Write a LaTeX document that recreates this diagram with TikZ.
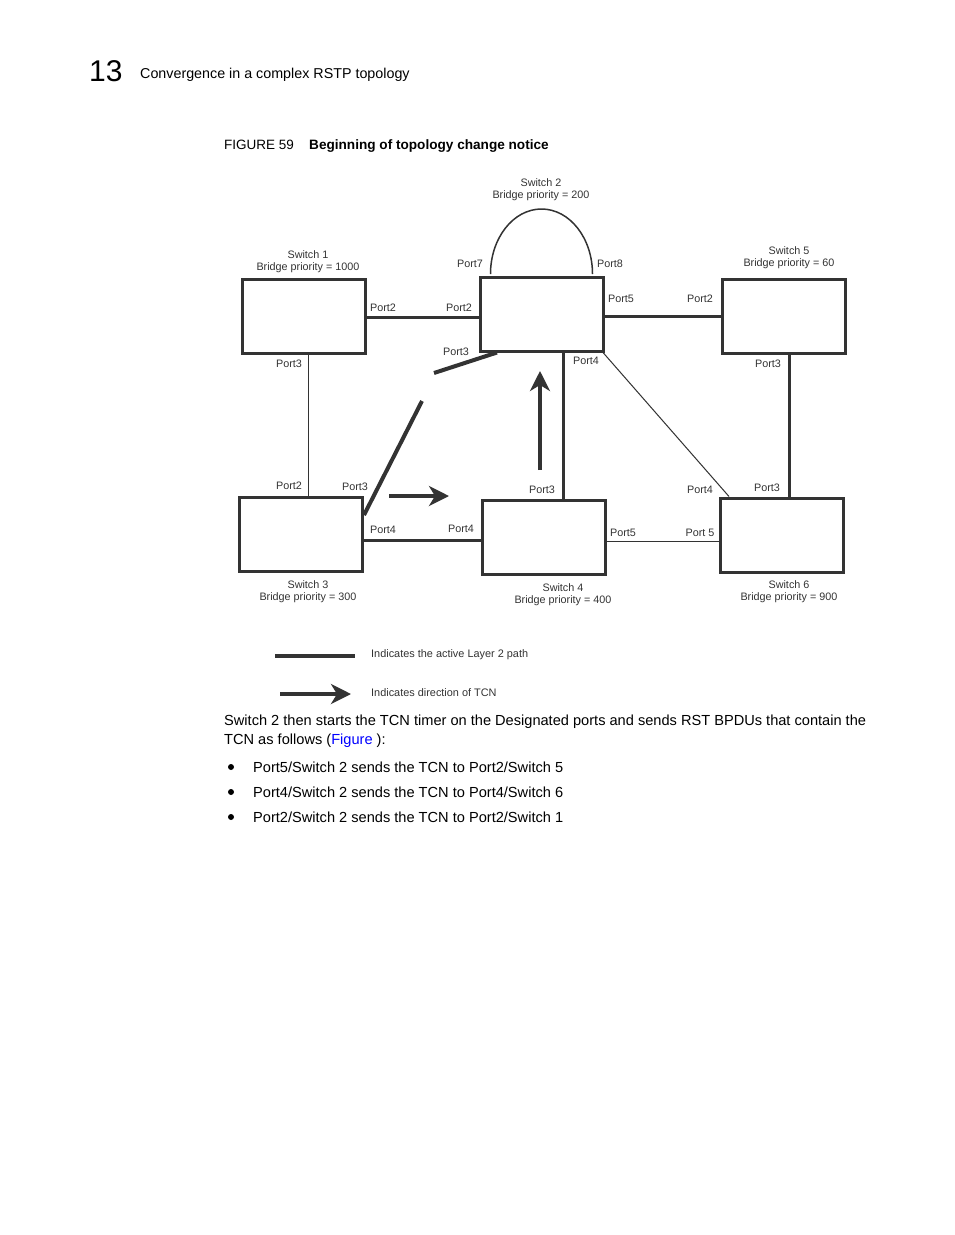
\documentclass[tikz,border=0pt]{standalone}
\usepackage{fontspec}
\setmainfont{Liberation Sans}
\usetikzlibrary{arrows.meta}
\definecolor{ink}{HTML}{333333}
\definecolor{linkblue}{RGB}{0,0,255}
\tikzset{
  switchbox/.style={draw=ink, line width=3pt, minimum width=123pt, minimum height=74pt, inner sep=0pt},
  lbl/.style={font=\fontsize{10.8}{12}\selectfont, text=ink, inner sep=0pt},
  active/.style={draw=ink, line width=3pt},
  thinlink/.style={draw=ink, line width=1pt},
  broken/.style={draw=ink, line width=4pt},
  tcn/.style={draw=ink, line width=4pt, -{Stealth[length=20pt, width=20pt, inset=6pt]}},
  body/.style={font=\fontsize{14.6}{17}\selectfont, text=black, anchor=base west, inner sep=0pt},
  bulletdot/.style={circle, fill=black, inner sep=0pt, minimum size=6pt},
}
\begin{document}
\begin{tikzpicture}[x=1pt, y=-1pt]
\useasboundingbox (0,0) rectangle (954,1235);
% header
\node[anchor=base west, inner sep=0pt, font=\fontsize{30}{32}\selectfont] (chap) at (89,81) {13};
\node[anchor=base west, inner sep=0pt, font=\fontsize{14.3}{16}\selectfont] (head) at (140,78) {Convergence in a complex RSTP topology};
\node[anchor=base west, inner sep=0pt, font=\fontsize{13.5}{16}\selectfont] (fig) at (224,149) {FIGURE 59};
\node[anchor=base west, inner sep=0pt, font=\bfseries\fontsize{13.6}{16}\selectfont] (figt) at (309,149) {Beginning of topology change notice};

% switches
\node[switchbox] (S1) at (304,316) {};
\node[switchbox] (S2) at (542,314) {};
\node[switchbox] (S5) at (784,316.5) {};
\node[switchbox] (S3) at (301,534) {};
\node[switchbox] (S4) at (543.5,537.5) {};
\node[switchbox] (S6) at (782,535) {};

% switch labels
\node[lbl, align=center] (L1) at (308,262) {Switch 1\\Bridge priority = 1000};
\node[lbl, align=center] (L2) at (541,190) {Switch 2\\Bridge priority = 200};
\node[lbl, align=center] (L5) at (789,258) {Switch 5\\Bridge priority = 60};
\node[lbl, align=center] (L3) at (308,592) {Switch 3\\Bridge priority = 300};
\node[lbl, align=center] (L4) at (563,595) {Switch 4\\Bridge priority = 400};
\node[lbl, align=center] (L6) at (789,592) {Switch 6\\Bridge priority = 900};

% loop on switch 2
\draw[draw=ink, line width=1.5pt] (490.5,274) arc[start angle=180, end angle=360, x radius=51, y radius=65];

% links
\draw[active] (S1.east |- 0,317) -- (S2.west |- 0,317);
\draw[active] (S2.east |- 0,316) -- (S5.west |- 0,316);
\draw[thinlink] ([xshift=4pt]S1.south) -- ([xshift=4pt]S1.south |- S3.north);
\draw[active] ([xshift=5pt]S5.south) -- ([xshift=5pt]S5.south |- S6.north);
\draw[active] (S3.east |- 0,540) -- (S4.west |- 0,540);
\draw[thinlink] (S4.east |- 0,541) -- (S6.west |- 0,541);
\draw[active] ([xshift=21pt]S2.south) -- ([xshift=21pt]S2.south |- S4.north);
\draw[thinlink] ([xshift=-2pt]S2.south east) -- ([xshift=10pt]S6.north west);
\coordinate (g1) at (422,401);
\coordinate (g2) at (434,373);
\draw[broken] (S3.east |- 0,515) -- (g1);
\draw[broken] (g2) -- ([xshift=-45pt]S2.south);

% TCN arrows
\coordinate (u0) at (540,470);
\coordinate (u1) at (540,371);
\coordinate (r0) at (389,496);
\coordinate (r1) at (449,496);
\draw[tcn] (u0) -- (u1);
\draw[tcn] (r0) -- (r1);

% port labels
\node[lbl] (p12) at (383,308) {Port2};
\node[lbl] (p13) at (289,364) {Port3};
\node[lbl] (p27) at (470,264) {Port7};
\node[lbl] (p28) at (610,264) {Port8};
\node[lbl] (p22) at (459,308) {Port2};
\node[lbl] (p25) at (621,299) {Port5};
\node[lbl] (p23) at (456,352) {Port3};
\node[lbl] (p24) at (586,361) {Port4};
\node[lbl] (p52) at (700,299) {Port2};
\node[lbl] (p53) at (768,364) {Port3};
\node[lbl] (p32) at (289,486) {Port2};
\node[lbl] (p33) at (355,487) {Port3};
\node[lbl] (p34) at (383,530) {Port4};
\node[lbl] (p43) at (542,490) {Port3};
\node[lbl] (p44) at (461,529) {Port4};
\node[lbl] (p45) at (623,533) {Port5};
\node[lbl] (p64) at (700,490) {Port4};
\node[lbl] (p63) at (767,488) {Port3};
\node[lbl] (p65) at (700,533) {Port 5};

% legend
\coordinate (la0) at (275,656);
\coordinate (la1) at (355,656);
\draw[active, line width=4pt] (la0) -- (la1);
\node[lbl, anchor=west, font=\fontsize{10.9}{12}\selectfont] (lt1) at (371,655) {Indicates the active Layer 2 path};
\coordinate (lb0) at (280,694);
\coordinate (lb1) at (351,694);
\draw[tcn] (lb0) -- (lb1);
\node[lbl, anchor=west, font=\fontsize{10.9}{12}\selectfont] (lt2) at (371,693) {Indicates direction of TCN};

% body text
\node[body] (t1) at (224,725) {Switch 2 then starts the TCN timer on the Designated ports and sends RST BPDUs that contain the};
\node[body] (t2) at (224,744) {TCN as follows (\textcolor{linkblue}{Figure} ):};
\node[bulletdot] (b1) at (231,767) {};
\node[bulletdot] (b2) at (231,792) {};
\node[bulletdot] (b3) at (231,817) {};
\node[body] (t3) at (253,772) {Port5/Switch 2 sends the TCN to Port2/Switch 5};
\node[body] (t4) at (253,797) {Port4/Switch 2 sends the TCN to Port4/Switch 6};
\node[body] (t5) at (253,822) {Port2/Switch 2 sends the TCN to Port2/Switch 1};
\end{tikzpicture}
\end{document}
